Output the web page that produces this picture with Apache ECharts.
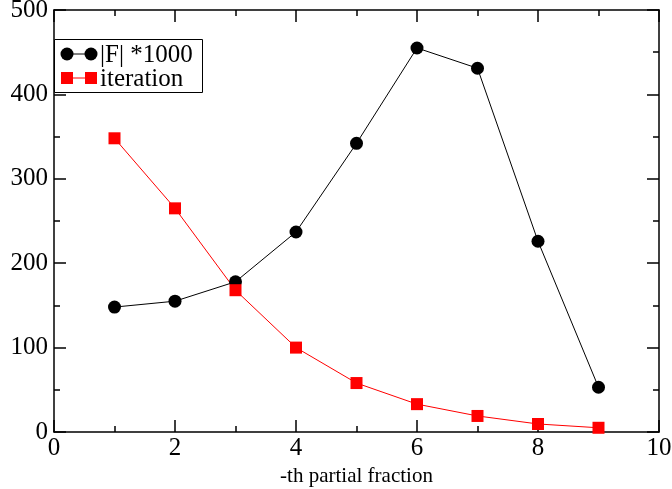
<!DOCTYPE html>
<html>
<head>
<meta charset="utf-8">
<script src="https://cdn.jsdelivr.net/npm/echarts@6/dist/echarts.min.js"></script>
<style>html,body{margin:0;padding:0;background:#fff;}#c{width:672px;height:489px;}</style>
</head>
<body>
<div id="c"></div>
<script>
const xValues = [1, 2, 3, 4, 5, 6, 7, 8, 9];
const fValues = [148, 155, 178, 237, 342, 455, 431, 226, 53];
const iterValues = [348, 265, 168, 100, 58, 33, 19, 9.5, 5];
const seriesNames = ['|F| *1000', 'iteration'];
const xTitle = '-th partial fraction';

const font = 'Liberation Serif';
const chart = echarts.init(document.getElementById('c'));
const tickX = {show: true, inside: true, length: 12, lineStyle: {color: '#000', width: 1.5}};
const minorX = {show: true, splitNumber: 2, length: 6, lineStyle: {color: '#000', width: 1.5}};
const axisLine = {show: true, onZero: false, lineStyle: {color: '#000', width: 1.5}};
chart.setOption({
  animation: false,
  backgroundColor: '#fff',
  grid: {left: 54, right: 13, top: 10, bottom: 57, outerBoundsMode: 'none', containLabel: false},
  xAxis: [{
    type: 'value', min: 0, max: 10, interval: 2,
    axisLine: axisLine, axisTick: tickX, minorTick: minorX,
    splitLine: {show: false},
    axisLabel: {fontFamily: font, fontSize: 25, color: '#000', margin: 4},
    name: xTitle, nameLocation: 'middle', nameGap: 29,
    nameTextStyle: {fontFamily: font, fontSize: 21, color: '#000'}
  }, {
    type: 'value', min: 0, max: 10, interval: 2, position: 'top',
    axisLine: axisLine, axisTick: tickX, minorTick: minorX,
    splitLine: {show: false}, axisLabel: {show: false}
  }],
  yAxis: [{
    type: 'value', min: 0, max: 500, interval: 100,
    axisLine: axisLine, axisTick: tickX, minorTick: minorX,
    splitLine: {show: false},
    axisLabel: {fontFamily: font, fontSize: 25, color: '#000', margin: 6}
  }, {
    type: 'value', min: 0, max: 500, interval: 100, position: 'right',
    axisLine: axisLine, axisTick: tickX, minorTick: minorX,
    splitLine: {show: false}, axisLabel: {show: false}
  }],
  series: [{
    name: seriesNames[0], type: 'line',
    data: xValues.map((x, i) => [x, fValues[i]]),
    symbol: 'circle', symbolSize: 13,
    itemStyle: {color: '#000'}, lineStyle: {color: '#000', width: 1}
  }, {
    name: seriesNames[1], type: 'line',
    data: xValues.map((x, i) => [x, iterValues[i]]),
    symbol: 'rect', symbolSize: 12,
    itemStyle: {color: '#ff0000'}, lineStyle: {color: '#ff0000', width: 1}
  }],
  graphic: [
    {type: 'rect', shape: {x: 54.5, y: 39.5, width: 148, height: 53}, style: {fill: '#fff', stroke: '#000', lineWidth: 1}, z: 10},
    {type: 'line', shape: {x1: 67, y1: 54, x2: 91, y2: 54}, style: {stroke: '#000', lineWidth: 1}, z: 11},
    {type: 'circle', shape: {cx: 67, cy: 54, r: 6.5}, style: {fill: '#000'}, z: 11},
    {type: 'circle', shape: {cx: 91, cy: 54, r: 6.5}, style: {fill: '#000'}, z: 11},
    {type: 'text', style: {x: 100, y: 55, text: seriesNames[0], font: '25px "Liberation Serif"', fill: '#000', verticalAlign: 'middle'}, z: 11},
    {type: 'line', shape: {x1: 67, y1: 78, x2: 91, y2: 78}, style: {stroke: '#ff0000', lineWidth: 1}, z: 11},
    {type: 'rect', shape: {x: 61, y: 72, width: 12, height: 12}, style: {fill: '#ff0000'}, z: 11},
    {type: 'rect', shape: {x: 85, y: 72, width: 12, height: 12}, style: {fill: '#ff0000'}, z: 11},
    {type: 'text', style: {x: 100, y: 79, text: seriesNames[1], font: '25px "Liberation Serif"', fill: '#000', verticalAlign: 'middle'}, z: 11}
  ]
});
</script>
</body>
</html>
